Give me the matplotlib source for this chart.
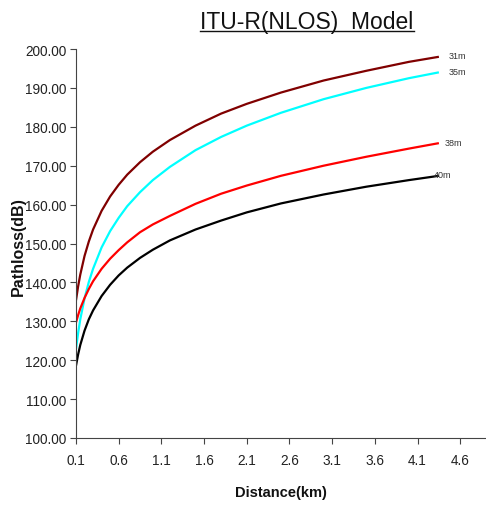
# ITU-R (NLOS) pathloss vs distance for four antenna heights
import matplotlib
matplotlib.use('Agg')
import matplotlib.pyplot as plt
from matplotlib.lines import Line2D

plt.rcParams['font.family'] = ['Liberation Sans', 'DejaVu Sans']

# values
distance = [0.1, 0.125, 0.15, 0.2, 0.25, 0.3, 0.4, 0.5, 0.6, 0.7, 0.85,
            1.0, 1.2, 1.5, 1.8, 2.1, 2.5, 3.0, 3.5, 4.0, 4.35]
loss_31m = [135.4, 139.0, 142.0, 146.8, 150.5, 153.6, 158.4, 162.1, 165.1, 167.7, 170.9,
            173.6, 176.6, 180.3, 183.4, 185.9, 188.8, 191.9, 194.4, 196.7, 198.0]
loss_35m = [122.9, 127.0, 130.5, 135.9, 140.1, 143.5, 149.0, 153.2, 156.6, 159.6, 163.2,
            166.3, 169.7, 174.0, 177.4, 180.3, 183.6, 187.1, 190.0, 192.5, 194.0]
loss_38m = [129.7, 131.6, 133.3, 136.0, 138.3, 140.3, 143.5, 146.1, 148.3, 150.3, 152.9,
            154.9, 157.1, 160.2, 162.8, 164.9, 167.4, 170.0, 172.3, 174.4, 175.8]
loss_40m = [118.6, 121.5, 123.9, 127.6, 130.5, 132.8, 136.5, 139.4, 141.8, 143.8, 146.3,
            148.4, 150.8, 153.6, 155.9, 158.0, 160.3, 162.6, 164.6, 166.3, 167.4]
series = [('31m', loss_31m, '#800000'), ('35m', loss_35m, '#00ffff'),
          ('38m', loss_38m, '#ff0000'), ('40m', loss_40m, '#000000')]
xticks = [0.1, 0.6, 1.1, 1.6, 2.1, 2.6, 3.1, 3.6, 4.1, 4.6]
yticks = [100, 110, 120, 130, 140, 150, 160, 170, 180, 190, 200]

fig = plt.figure(figsize=(4.86, 5.06), dpi=100)
ax = fig.add_axes([76/486, 67/506, 409/486, 389/506])

label_off = {'31m': (7, 1.0), '35m': (7, 0.6), '38m': (4, 0.5), '40m': (-4, 0.6)}
for name, vals, col in series:
    ax.plot(distance, vals, color=col, lw=1.6, solid_capstyle='butt')
    dx, dy = label_off[name]
    ax.annotate(name, (distance[-1], vals[-1]), xytext=(dx, dy), textcoords='offset points',
                fontsize=6.5, color='#333333', va='center', ha='left')

ax.set_xlim(0.1, 4.89)
ax.set_ylim(100, 200)
ax.set_xticks(xticks)
ax.set_xticklabels([f'{t:.1f}' for t in xticks])
ax.set_yticks(yticks)
ax.set_yticklabels([f'{t:.2f}' for t in yticks])
ax.tick_params(axis='both', labelsize=9.8, colors='#444444', labelcolor='#222222',
               length=4, width=0.8)
ax.tick_params(axis='x', pad=7)
ax.tick_params(axis='y', pad=3)
for s in ['top', 'right']:
    ax.spines[s].set_visible(False)
for s in ['left', 'bottom']:
    ax.spines[s].set_color('#444444')
    ax.spines[s].set_linewidth(0.8)

fig.text(281/486, 1 - 493/506, 'Distance(km)', ha='center', va='center',
         fontsize=10.5, fontweight='bold', color='#111111')
fig.text(18/486, 1 - 247/506, 'Pathloss(dB)', ha='center', va='center', rotation=90,
         fontsize=11.5, fontweight='bold', color='#111111')

# underlined title
title = fig.text(307/486, 1 - 22/506, 'ITU-R(NLOS)  Model', ha='center', va='center',
                 fontsize=16.5, color='#111111')
fig.canvas.draw()
bb = title.get_window_extent().transformed(fig.transFigure.inverted())
fig.add_artist(Line2D([bb.x0, bb.x1], [bb.y0 + 0.003, bb.y0 + 0.003],
                      transform=fig.transFigure, color='#111111', lw=1.0))

fig.savefig('out.png', dpi=100)
